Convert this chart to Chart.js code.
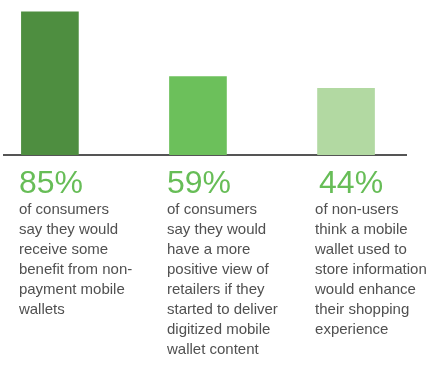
<!DOCTYPE html>
<html>
<head>
<meta charset="utf-8">
<script src="https://cdn.jsdelivr.net/npm/chart.js@4"></script>
<style>
  body { margin: 0; background: #fff; }
</style>
</head>
<body>
<canvas id="chart" width="434" height="366"></canvas>
<script>
// Bar heights as drawn in the picture (first bar = 85); the bars are not to scale
const barValues = [85, 46.5, 39.5];
const percentLabels = ['85%', '59%', '44%'];
const barColors = ['#4e8e40', '#6cc05b', '#b2d9a2'];
const descriptions = [
    ['of consumers', 'say they would', 'receive some', 'benefit from non-', 'payment mobile', 'wallets'],
    ['of consumers', 'say they would', 'have a more', 'positive view of', 'retailers if they', 'started to deliver', 'digitized mobile', 'wallet content'],
    ['of non-users', 'think a mobile', 'wallet used to', 'store information', 'would enhance', 'their shopping', 'experience']
];

const FONT = '"Liberation Sans", Arial, sans-serif';

// Draw the big percentages and the text under each bar
const textPlugin = {
    id: 'columnText',
    afterDraw(chart) {
        const ctx = chart.ctx;
        const xScale = chart.scales.x;
        const base = chart.scales.y.getPixelForValue(0);
        ctx.save();
        ctx.textAlign = 'left';
        ctx.textBaseline = 'alphabetic';
        percentLabels.forEach((label, i) => {
            const left = xScale.getPixelForValue(i) - 31;
            ctx.fillStyle = '#67bd57';
            ctx.font = '32px ' + FONT;
            ctx.fillText(label, left + (i === 2 ? 4 : 0), base + 38);
            ctx.fillStyle = '#505050';
            ctx.font = '15px ' + FONT;
            descriptions[i].forEach((line, j) => {
                ctx.fillText(line, left, base + 59 + j * 20);
            });
        });
        ctx.restore();
    }
};

new Chart(document.getElementById('chart'), {
    type: 'bar',
    data: {
        datasets: [{
            data: barValues.map((v, i) => ({ x: i, y: v })),
            backgroundColor: barColors,
            borderWidth: 0,
            barThickness: 57
        }]
    },
    options: {
        responsive: false,
        animation: false,
        layout: { padding: { top: 0, left: 4, right: 28, bottom: 211 } },
        plugins: { legend: { display: false }, tooltip: { enabled: false } },
        scales: {
            x: {
                type: 'linear',
                offset: false,
                min: -0.31,
                max: 2.405,
                grid: { display: false, drawTicks: false },
                ticks: { display: false },
                border: { color: '#555', width: 2 }
            },
            y: {
                display: false,
                min: 0,
                max: 92
            }
        }
    },
    plugins: [textPlugin]
});
</script>
</body>
</html>
